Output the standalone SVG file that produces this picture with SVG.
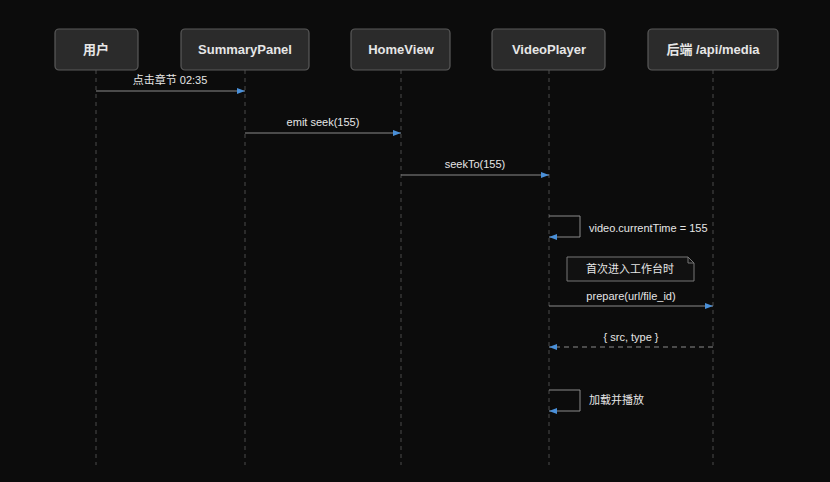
<svg xmlns="http://www.w3.org/2000/svg" width="830" height="482" viewBox="0 0 830 482">
<style>
.box{fill:#2b2b2b;stroke:#5a5a5a;stroke-width:1.2}
.bt{font-family:"Liberation Sans","Noto Sans CJK SC",sans-serif;font-size:13px;font-weight:bold;fill:#e6e6e6;text-anchor:middle}
.life{stroke:#4a4a4a;stroke-width:1;stroke-dasharray:4,4}
.msg{stroke:#8a8a8a;stroke-width:1;fill:none}
.t{font-family:"Liberation Sans","Noto Sans CJK SC",sans-serif;font-size:11px;fill:#e6e6e6}
.c{text-anchor:middle}
</style>
<defs>
<marker id="ah" markerWidth="8" markerHeight="6" refX="8" refY="3" orient="auto" markerUnits="userSpaceOnUse">
<path d="M0,0 L8,3 L0,6 z" fill="#4a90d9"/>
</marker>
</defs>
<rect width="830" height="482" fill="#0c0c0c"/>
<g id="lifelines">
<line class="life" x1="96" y1="70" x2="96" y2="465"/>
<line class="life" x1="245" y1="70" x2="245" y2="465"/>
<line class="life" x1="401" y1="70" x2="401" y2="465"/>
<line class="life" x1="549" y1="70" x2="549" y2="465"/>
<line class="life" x1="713" y1="70" x2="713" y2="465"/>
</g>
<g id="user"><rect class="box" x="55" y="29" width="83" height="41" rx="4"/><text class="bt" x="96" y="54">用户</text></g>
<g id="summary"><rect class="box" x="181" y="29" width="128" height="41" rx="4"/><text class="bt" x="245" y="54">SummaryPanel</text></g>
<g id="home"><rect class="box" x="351" y="29" width="99" height="41" rx="4"/><text class="bt" x="401" y="54">HomeView</text></g>
<g id="video"><rect class="box" x="492" y="29" width="113" height="41" rx="4"/><text class="bt" x="549" y="54">VideoPlayer</text></g>
<g id="backend"><rect class="box" x="648" y="29" width="130" height="41" rx="4"/><text class="bt" x="713" y="54">后端 /api/media</text></g>
<g id="connectors">
<line class="msg" x1="96" y1="91" x2="245" y2="91" marker-end="url(#ah)"/>
<text class="t c" x="170" y="84">点击章节 02:35</text>
<line class="msg" x1="245" y1="133" x2="401" y2="133" marker-end="url(#ah)"/>
<text class="t c" x="323" y="126">emit seek(155)</text>
<line class="msg" x1="401" y1="175" x2="549" y2="175" marker-end="url(#ah)"/>
<text class="t c" x="475" y="168">seekTo(155)</text>
<path class="msg" d="M549,216 H580 V237 H549" marker-end="url(#ah)"/>
<text class="t" x="589" y="232">video.currentTime = 155</text>
<line class="msg" x1="549" y1="306" x2="713" y2="306" marker-end="url(#ah)"/>
<text class="t c" x="631" y="300">prepare(url/file_id)</text>
<line class="msg" x1="713" y1="347" x2="549" y2="347" stroke-dasharray="5,4" marker-end="url(#ah)"/>
<text class="t c" x="631" y="341">{ src, type }</text>
<path class="msg" d="M549,390 H580 V411 H549" marker-end="url(#ah)"/>
<text class="t" x="589" y="404">加载并播放</text>
</g>
<g id="note">
<path d="M567,257 H688 L694,263 V281 H567 Z" fill="#111" stroke="#777" stroke-width="1"/>
<path d="M688,257 V263 H694" fill="none" stroke="#777" stroke-width="1"/>
<text class="t c" x="630" y="273">首次进入工作台时</text>
</g>
</svg>
